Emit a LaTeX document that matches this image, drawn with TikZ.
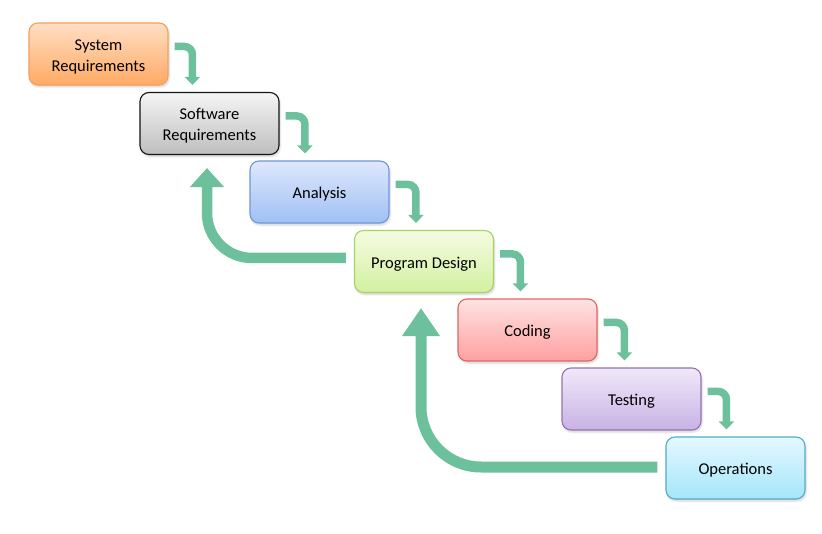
\documentclass[tikz,border=0pt]{standalone}
\usepackage{fontspec}
\setmainfont{Carlito}
\usetikzlibrary{arrows.meta,calc,shadows,shadows.blur}
\definecolor{arrowc}{RGB}{108,192,155}
\definecolor{orT}{RGB}{255,222,196}\definecolor{orB}{RGB}{255,170,100}\definecolor{orD}{RGB}{245,160,90}
\definecolor{grT}{RGB}{245,245,245}\definecolor{grB}{RGB}{190,190,190}\definecolor{grD}{RGB}{20,20,20}
\definecolor{blT}{RGB}{222,232,252}\definecolor{blB}{RGB}{160,192,245}\definecolor{blD}{RGB}{110,150,220}
\definecolor{gnT}{RGB}{245,252,225}\definecolor{gnB}{RGB}{210,240,160}\definecolor{gnD}{RGB}{165,210,105}
\definecolor{rdT}{RGB}{255,226,226}\definecolor{rdB}{RGB}{255,160,160}\definecolor{rdD}{RGB}{215,105,105}
\definecolor{puT}{RGB}{240,232,250}\definecolor{puB}{RGB}{200,178,228}\definecolor{puD}{RGB}{150,115,175}
\definecolor{cyT}{RGB}{228,248,255}\definecolor{cyB}{RGB}{165,230,250}\definecolor{cyD}{RGB}{85,170,200}
\tikzset{
  stage/.style={rounded corners=9pt, minimum width=139pt, minimum height=62pt,
    line width=1.1pt,
    blur shadow={shadow xshift=1pt, shadow yshift=-2pt, shadow blur steps=5, shadow opacity=18}},
  stagetext/.style={align=center, font=\fontsize{16.5}{21}\selectfont, yshift=-2.5pt,
    inner sep=0pt, text=black},
  txtlab/.style={label={[stagetext]center:#1}},
  stagecol/.style n args={3}{draw=#3, top color=#1, bottom color=#2},
  smallarrow/.style={draw=arrowc, line width=7.5pt, rounded corners=8pt,
    -{Triangle[width=15pt,length=8pt]}, arrowc},
  bigarrowA/.style={draw=arrowc, line width=10.5pt, rounded corners=45pt,
    -{Triangle[width=33pt,length=19pt]}, arrowc},
  bigarrowB/.style={draw=arrowc, line width=11pt, rounded corners=60pt,
    -{Triangle[width=36pt,length=28pt]}, arrowc}
}
\begin{document}
\begin{tikzpicture}[x=1pt,y=-1pt]
\useasboundingbox (0,0) rectangle (822,534);
\node[stage, stagecol={orT}{orB}{orD}, txtlab={System\\Requirements}] (s1) at (98.5,54) {};
\node[stage, stagecol={grT}{grB}{grD}, txtlab={Software\\Requirements}] (s2) at (209.5,123.5) {};
\node[stage, stagecol={blT}{blB}{blD}, txtlab={Analysis}] (s3) at (319.5,192) {};
\node[stage, stagecol={gnT}{gnB}{gnD}, txtlab={Program Design}] (s4) at (424,261.5) {};
\node[stage, stagecol={rdT}{rdB}{rdD}, txtlab={Coding}] (s5) at (527.5,330) {};
\node[stage, stagecol={puT}{puB}{puD}, txtlab={Testing}] (s6) at (631.5,399) {};
\node[stage, stagecol={cyT}{cyB}{cyD}, txtlab={Operations}] (s7) at (735.5,468) {};
\foreach \a/\b/\dx in {s1/s2/53,s2/s3/55.5,s3/s4/62,s4/s5/63,s5/s6/63,s6/s7/61}{
  \draw[smallarrow] ($(\a.east)+(6,-7.5)$) -| ($(\b.north west)+(\dx,-7)$);
}
\draw[bigarrowA] ($(s4.west)+(-8,-3.5)$) -| ($(s2.south)+(-2.5,13)$);
\draw[bigarrowB] ($(s7.west)+(-8,-1)$) -| ($(s4.south)+(-3,15)$);
\end{tikzpicture}
\end{document}
